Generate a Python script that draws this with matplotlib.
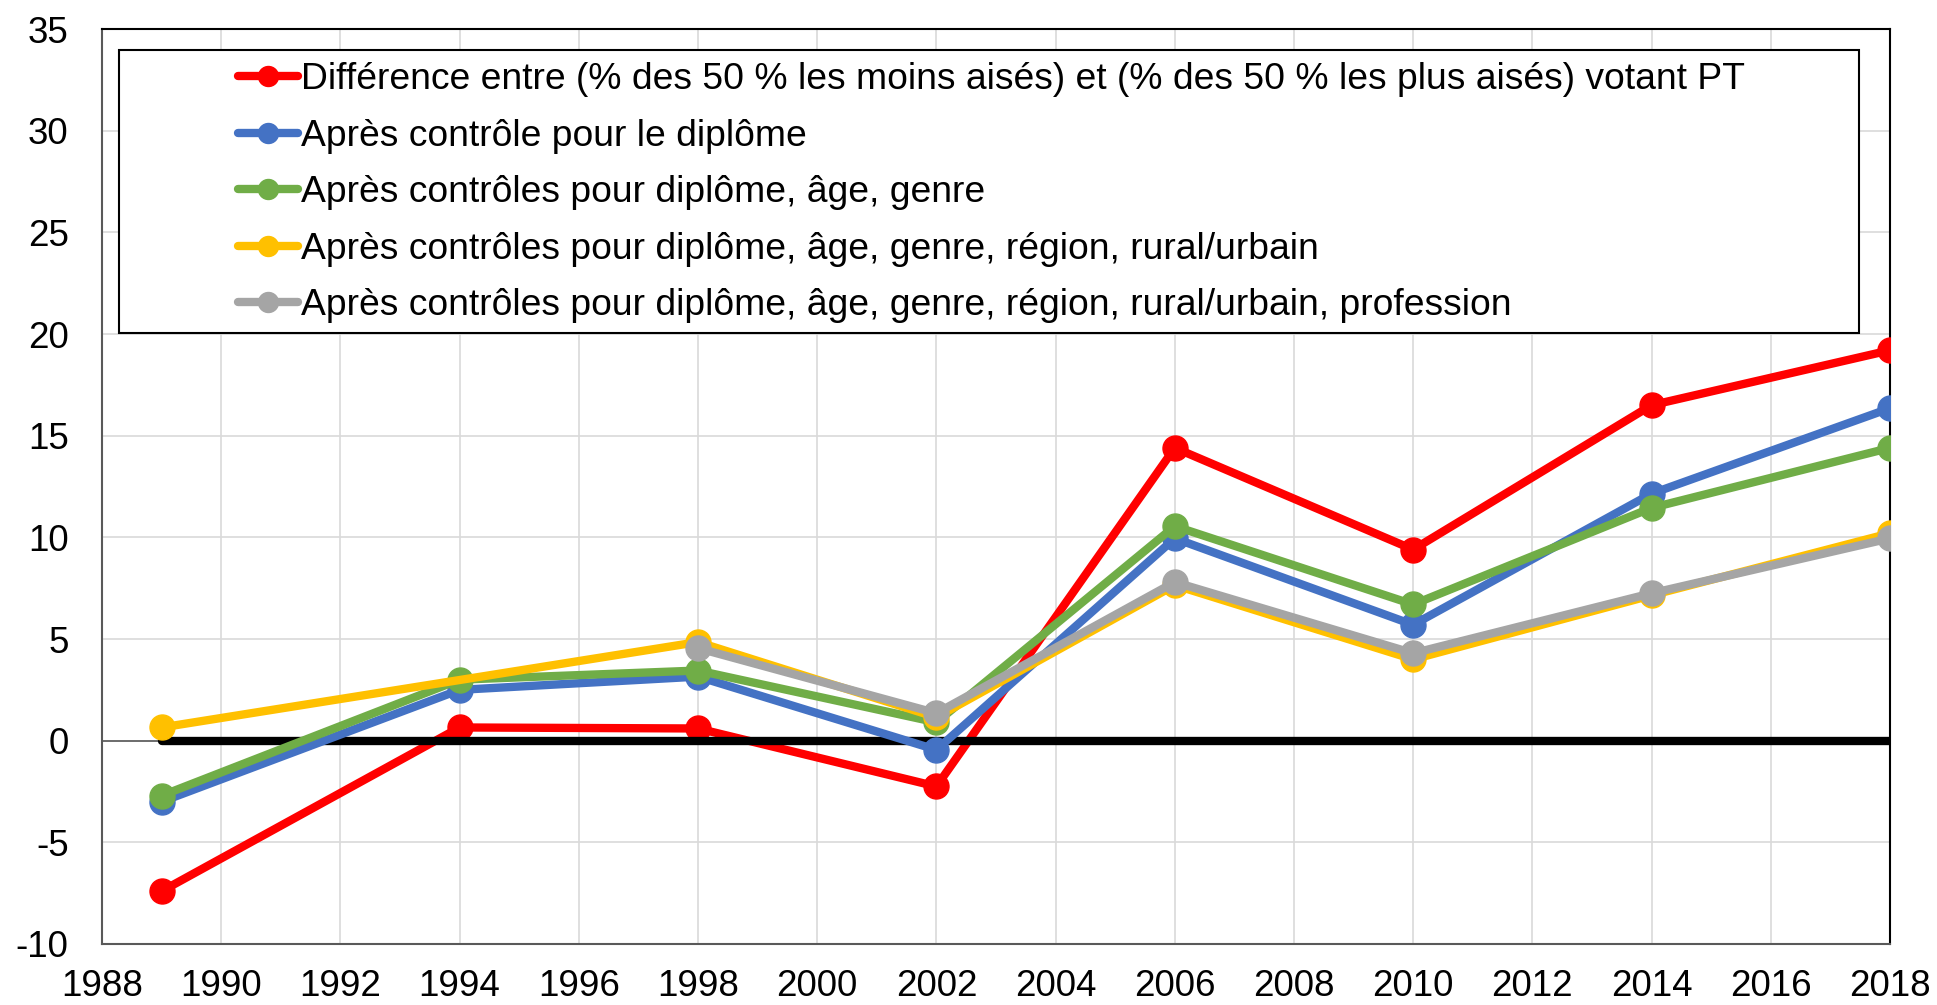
import matplotlib
matplotlib.use("Agg")
import matplotlib.pyplot as plt
import matplotlib.patches as patches

plt.rcParams['font.family'] = ['Liberation Sans', 'DejaVu Sans']
plt.rcParams['axes.unicode_minus'] = False

# data
years = [1989, 1994, 1998, 2002, 2006, 2010, 2014, 2018]
diff_raw = [-7.4, 0.65, 0.6, -2.25, 14.4, 9.4, 16.5, 19.2]
ctrl_diplome = [-3.0, 2.5, 3.15, -0.45, 9.95, 5.7, 12.15, 16.35]
ctrl_age_genre = [-2.7, 3.0, 3.45, 0.9, 10.55, 6.7, 11.45, 14.4]

years_region = [1989, 1998, 2002, 2006, 2010, 2014, 2018]
ctrl_region = [0.65, 4.85, 1.15, 7.65, 4.0, 7.15, 10.2]

years_prof = [1998, 2002, 2006, 2010, 2014, 2018]
ctrl_profession = [4.55, 1.35, 7.8, 4.3, 7.25, 9.95]

zero_years = [1989, 2018]
zero_vals = [0, 0]

labels = [
    "Différence entre (% des 50 % les moins aisés) et (% des 50 % les plus aisés) votant PT",
    "Après contrôle pour le diplôme",
    "Après contrôles pour diplôme, âge, genre",
    "Après contrôles pour diplôme, âge, genre, région, rural/urbain",
    "Après contrôles pour diplôme, âge, genre, région, rural/urbain, profession",
]
colors = ["#FF0000", "#4472C4", "#70AD47", "#FFC000", "#A5A5A5"]

fig = plt.figure(figsize=(19.37, 10.05), dpi=100)
ax = fig.add_axes([0.0527, 0.0607, 0.923, 0.9104])

ax.axhline(0, color="#595959", lw=1.2, zorder=1.5)

series = [
    (years, diff_raw),
    (years, ctrl_diplome),
    (years, ctrl_age_genre),
    (years_region, ctrl_region),
    (years_prof, ctrl_profession),
]
handles = []
for i, (xs, ys) in enumerate(series):
    h, = ax.plot(xs, ys, color=colors[i], lw=6, marker="o", markersize=18,
                 solid_capstyle="round", zorder=3 + i * 0.1, label=labels[i])
    handles.append(h)
    if i == 0:
        # black zero line sits over the red line
        ax.plot(zero_years, zero_vals, color="black", lw=6,
                solid_capstyle="round", zorder=3.05)

ax.set_xlim(1988, 2018)
ax.set_ylim(-10, 35)
ax.set_xticks(range(1988, 2019, 2))
ax.set_yticks(range(-10, 36, 5))
ax.grid(True, color="#d9d9d9", lw=1.2, zorder=0)
ax.set_axisbelow(True)
ax.tick_params(axis="both", length=0, labelsize=26.5)
ax.tick_params(axis="y", pad=24)
ax.tick_params(axis="x", pad=18)

for side in ["left", "bottom"]:
    ax.spines[side].set_color("#595959")
    ax.spines[side].set_linewidth(1.5)
for side in ["right", "top"]:
    ax.spines[side].set_color("black")
    ax.spines[side].set_linewidth(1.5)

# legend frame drawn as a box, entries placed inside it
ax.add_patch(patches.Rectangle((0.0095, 0.668), 0.9732, 0.309,
                               transform=ax.transAxes, fill=True,
                               facecolor="white", edgecolor="black",
                               lw=1.5, zorder=5))
leg = ax.legend(handles=handles, loc="upper left",
                bbox_to_anchor=(0.076, 0.964), frameon=False,
                fontsize=26.8, borderpad=0, borderaxespad=0,
                handlelength=1.6, handletextpad=0.1, labelspacing=0.58,
                markerscale=0.8)
leg.set_zorder(6)

fig.savefig("out.png", dpi=100)
